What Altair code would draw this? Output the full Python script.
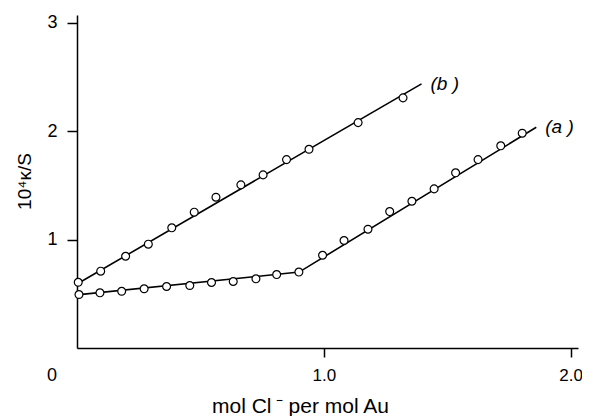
import altair as alt
import pandas as pd

# Measured points, curve (a)
a_x = [0.008, 0.093, 0.181, 0.272, 0.363, 0.457, 0.545, 0.633, 0.725, 0.809, 0.899,
       0.995, 1.082, 1.179, 1.267, 1.357, 1.447, 1.534, 1.625, 1.717, 1.804]
a_y = [0.493, 0.509, 0.523, 0.546, 0.567, 0.576, 0.604, 0.613, 0.638, 0.677, 0.700,
       0.855, 0.991, 1.095, 1.258, 1.353, 1.467, 1.615, 1.737, 1.864, 1.980]

# Measured points, curve (b)
b_x = [0.005, 0.096, 0.197, 0.289, 0.384, 0.475, 0.563, 0.664, 0.754, 0.849, 0.940, 1.139, 1.321]
b_y = [0.606, 0.708, 0.846, 0.957, 1.108, 1.252, 1.390, 1.504, 1.596, 1.737, 1.832, 2.078, 2.306]

# Fitted lines
line_a_x = [0.0, 0.90, 1.861]
line_a_y = [0.49, 0.70, 2.035]
line_b_x = [0.0, 1.396]
line_b_y = [0.59, 2.435]

series_labels = ["(a )", "(b )"]
x_ticks = [1.0, 2.0]
y_ticks = [1, 2, 3]

pts = pd.DataFrame({
    "x": a_x + b_x,
    "y": a_y + b_y,
    "series": ["a"] * len(a_x) + ["b"] * len(b_x),
})
lines = pd.DataFrame({
    "x": line_a_x + line_b_x,
    "y": line_a_y + line_b_y,
    "series": ["a"] * len(line_a_x) + ["b"] * len(line_b_x),
})
labels = pd.DataFrame({
    "x": [line_a_x[-1], line_b_x[-1]],
    "y": [line_a_y[-1], line_b_y[-1]],
    "text": series_labels,
    "dy": [0, -4],
})
origin = pd.DataFrame({"x": [0.0], "y": [0.0], "text": ["0"]})

FONT = "Liberation Sans"
xs = alt.Scale(domain=[0, 2.03], nice=False, zero=False)
ys = alt.Scale(domain=[0, 3.07], nice=False)

x_axis = alt.Axis(
    values=x_ticks, format=".1f", title="mol Cl\u2009⁻ per mol Au", grid=False,
    tickSize=9, labelPadding=10, labelFontSize=17, titleFontSize=21,
    titleX=223, titleY=64, titleBaseline="alphabetic", titleAlign="center",
)
y_axis = alt.Axis(
    values=y_ticks, format="d", title="10⁴κ/S", grid=False,
    tickSize=10, labelPadding=10, labelFontSize=18, titleFontSize=19,
    titleX=-53, titleY=166, titleBaseline="middle", titleAlign="center",
)

base_x = alt.X("x:Q", scale=xs, axis=x_axis)
base_y = alt.Y("y:Q", scale=ys, axis=y_axis)

line_layer = alt.Chart(lines).mark_line(color="black", strokeWidth=1.6).encode(
    x=base_x, y=base_y, detail="series:N"
)
point_layer = alt.Chart(pts).mark_point(
    filled=True, fill="white", stroke="black", strokeWidth=1.2, size=62, opacity=1, shape="circle"
).encode(x="x:Q", y="y:Q")
label_layer = alt.Chart(labels).mark_text(
    align="left", baseline="middle", dx=9, fontSize=19, fontStyle="italic", font=FONT, color="black"
).encode(x="x:Q", y="y:Q", text="text:N", yOffset=alt.YOffset("dy:Q", scale=None))
origin_layer = alt.Chart(origin).mark_text(
    align="right", baseline="middle", dx=-20, dy=28, fontSize=18, font=FONT, color="black"
).encode(x="x:Q", y="y:Q", text="text:N")

chart = alt.layer(line_layer, point_layer, label_layer, origin_layer).properties(
    width=501, height=333,
    autosize=alt.AutoSizeParams(type="none"),
    padding={"left": 69, "top": 7, "right": 4, "bottom": 68},
).configure_view(stroke=None).configure_axis(
    domainColor="black", domainWidth=1.5, tickColor="black", tickWidth=1.5,
    labelColor="black", titleColor="black", labelFont=FONT, titleFont=FONT,
    titleFontWeight="normal",
)

chart.save("out.html", embed_options={"renderer": "svg", "actions": False})
